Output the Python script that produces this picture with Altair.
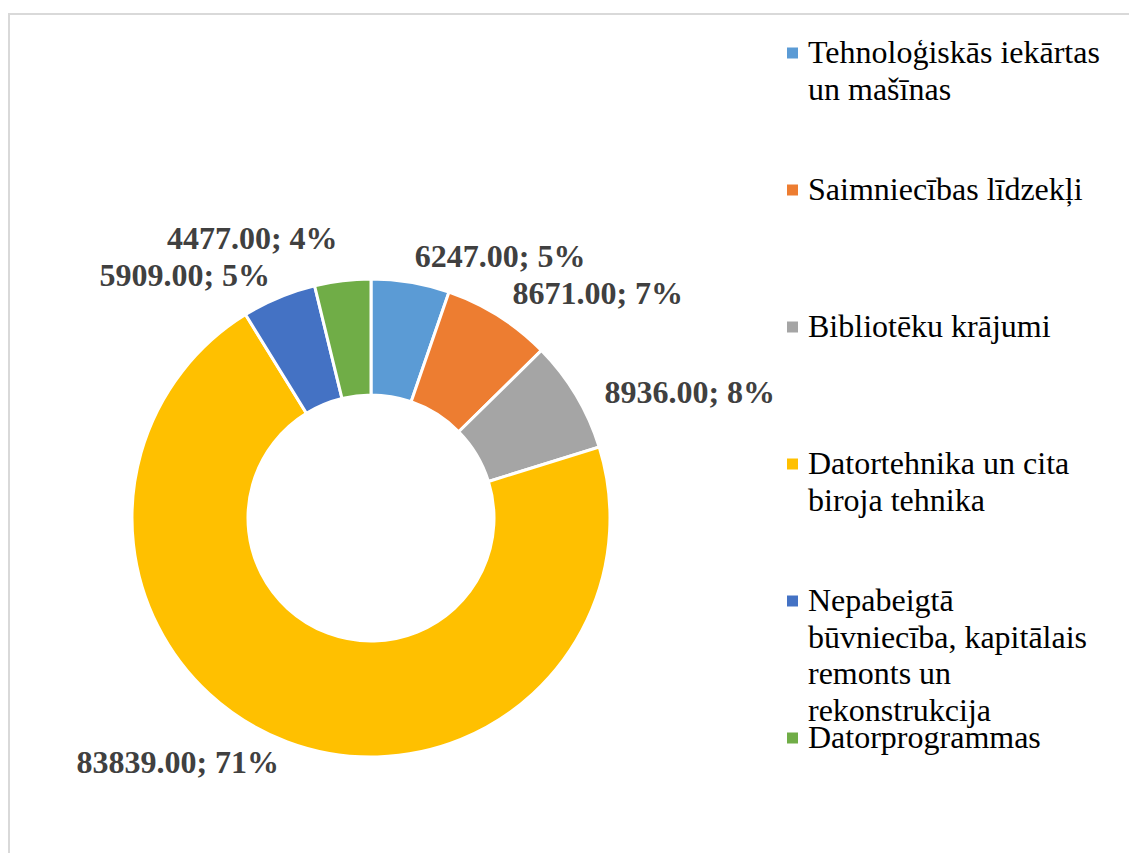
import altair as alt

# ---- data ----
categories = [
    "Tehnoloģiskās iekārtas un mašīnas",
    "Saimniecības līdzekļi",
    "Bibliotēku krājumi",
    "Datortehnika un cita biroja tehnika",
    "Nepabeigtā būvniecība, kapitālais remonts un rekonstrukcija",
    "Datorprogrammas",
]
values = [6247, 8671, 8936, 83839, 5909, 4477]
colors = ["#5B9BD5", "#ED7D31", "#A5A5A5", "#FFC000", "#4472C4", "#70AD47"]
legend_lines = [
    ["Tehnoloģiskās iekārtas", "un mašīnas"],
    ["Saimniecības līdzekļi"],
    ["Bibliotēku krājumi"],
    ["Datortehnika un cita", "biroja tehnika"],
    ["Nepabeigtā", "būvniecība, kapitālais", "remonts un", "rekonstrukcija"],
    ["Datorprogrammas"],
]

rows = [
    {"cat": c, "value": v, "idx": i, "lines": l}
    for i, (c, v, l) in enumerate(zip(categories, values, legend_lines))
]
data = alt.Data(values=rows)
one = alt.Data(values=[{"a": 1}])

CX, CY = 363, 510
FONT = "Liberation Serif"

color = alt.Color("cat:N", scale=alt.Scale(domain=categories, range=colors), legend=None)

base = alt.Chart(data)

arcs = base.mark_arc(outerRadius=239, innerRadius=123, stroke="white", strokeWidth=3).encode(
    theta=alt.Theta("value:Q", stack=True),
    color=color,
    order=alt.Order("idx:Q"),
    x=alt.value(CX),
    y=alt.value(CY),
)

lab = (
    base.transform_joinaggregate(total="sum(value)")
    .transform_window(cum="sum(value)", sort=[alt.SortField("idx")], frame=[None, 0])
    .transform_calculate(
        mid="(datum.cum - datum.value/2)/datum.total",
        label="format(datum.value, '.2f') + '; ' + format(datum.value/datum.total, '.0%')",
    )
)
theta_mid = alt.Theta("mid:Q", scale=alt.Scale(domain=[0, 1], range=[0, 6.283185307]))
txt_style = dict(font=FONT, fontSize=32, fontWeight="bold", color="#404040")
enc = dict(theta=theta_mid, text="label:N", x=alt.value(CX), y=alt.value(CY))

right_top_labels = lab.transform_filter("datum.mid < 0.12").mark_text(
    align="left", baseline="middle", radius=265, **txt_style).encode(**enc)
right_labels = lab.transform_filter("datum.mid >= 0.12 && datum.mid < 0.5").mark_text(
    align="left", baseline="top", radius=272, **txt_style).encode(**enc)
left_labels = lab.transform_filter("datum.mid >= 0.5 && datum.mid < 0.96").mark_text(
    align="right", baseline="middle", radius=262, **txt_style).encode(**enc)
top_labels = lab.transform_filter("datum.mid >= 0.96").mark_text(
    align="right", baseline="middle", radius=281, **txt_style).encode(**enc)

leg_y = alt.Y(
    "cat:N",
    scale=alt.Scale(type="point", domain=categories, range=[45, 730], padding=0),
    axis=None,
)
squares = base.mark_square(size=121, opacity=1).encode(x=alt.value(784.5), y=leg_y, color=color)
leg_text = base.mark_text(
    align="left", baseline="alphabetic", dy=10, font=FONT, fontSize=32, lineHeight=36.5, color="#000000"
).encode(x=alt.value(800), y=leg_y, text=alt.Text("lines:N"))

top_border = alt.Chart(one).mark_rule(color="#D9D9D9", strokeWidth=2).encode(
    x=alt.value(0), x2=alt.value(1121), y=alt.value(6)
)
left_border = alt.Chart(one).mark_rule(color="#D9D9D9", strokeWidth=2).encode(
    x=alt.value(1), y=alt.value(5), y2=alt.value(845)
)

chart = (
    alt.layer(top_border, left_border, arcs, right_top_labels, right_labels, left_labels,
              top_labels, squares, leg_text)
    .resolve_scale(theta="independent")
    .properties(width=1121, height=845, padding=0, autosize="none")
    .configure_view(stroke=None)
)

chart.save("out.html", embed_options={"renderer": "svg", "actions": False})
